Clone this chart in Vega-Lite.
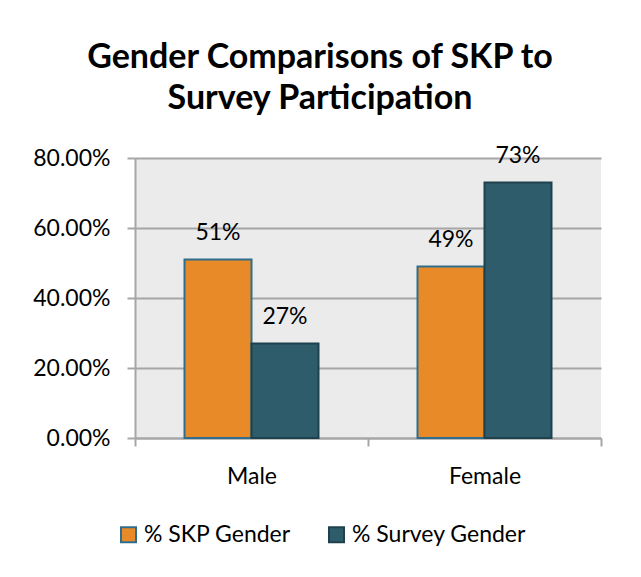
{
  "$schema": "https://vega.github.io/schema/vega-lite/v6.json",
  "width": 466,
  "height": 280,
  "autosize": {"type": "none"},
  "padding": {"left": 135, "top": 158, "right": 40, "bottom": 139},
  "background": "white",
  "title": {
    "text": ["Gender Comparisons of SKP to", "Survey Participation"],
    "font": "Lato",
    "fontSize": 34,
    "fontWeight": "bold",
    "color": "black",
    "anchor": "middle",
    "frame": "group",
    "dx": -48,
    "lineHeight": 41,
    "offset": 29
  },
  "data": {
    "values": [
      {"gender": "Male", "series": "% SKP Gender", "pct": 0.51},
      {"gender": "Male", "series": "% Survey Gender", "pct": 0.27},
      {"gender": "Female", "series": "% SKP Gender", "pct": 0.49},
      {"gender": "Female", "series": "% Survey Gender", "pct": 0.73}
    ]
  },
  "encoding": {
    "x": {
      "field": "gender",
      "type": "nominal",
      "sort": ["Male", "Female"],
      "scale": {"paddingInner": 0, "paddingOuter": 0},
      "axis": {
        "title": null,
        "labelAngle": 0,
        "labelFont": "Lato",
        "labelFontSize": 23,
        "labelColor": "black",
        "labelPadding": 19,
        "tickBand": "extent",
        "tickSize": 8,
        "tickColor": "#a6a6a6",
        "tickWidth": 2,
        "domainColor": "#a6a6a6",
        "domainWidth": 2
      }
    },
    "xOffset": {
      "field": "series",
      "type": "nominal",
      "scale": {"paddingOuter": 0.739, "paddingInner": 0}
    },
    "y": {
      "field": "pct",
      "type": "quantitative",
      "scale": {"domain": [0, 0.8], "nice": false},
      "axis": {
        "title": null,
        "values": [0, 0.2, 0.4, 0.6, 0.8],
        "format": ".2%",
        "labelFont": "Lato",
        "labelFontSize": 23,
        "labelColor": "black",
        "labelPadding": 17,
        "tickSize": 8,
        "tickColor": "#a6a6a6",
        "tickWidth": 2,
        "domainColor": "#a6a6a6",
        "domainWidth": 2,
        "gridColor": "#a6a6a6",
        "gridWidth": 2
      }
    }
  },
  "layer": [
    {
      "mark": {"type": "bar", "strokeWidth": 2},
      "encoding": {
        "color": {
          "field": "series",
          "type": "nominal",
          "scale": {"domain": ["% SKP Gender", "% Survey Gender"], "range": ["#e98a28", "#2e5c6a"]},
          "legend": {
            "title": null,
            "orient": "none",
            "direction": "horizontal",
            "legendX": -18,
            "legendY": 365,
            "symbolType": "square",
            "symbolSize": 225,
            "symbolStrokeWidth": 2,
            "symbolOpacity": 1,
            "labelFont": "Lato",
            "labelFontSize": 23,
            "labelColor": "black",
            "labelOffset": 4,
            "labelLimit": 400,
            "columnPadding": 34
          }
        },
        "stroke": {
          "field": "series",
          "type": "nominal",
          "scale": {"domain": ["% SKP Gender", "% Survey Gender"], "range": ["#2e6e8c", "#1e424d"]}
        }
      }
    },
    {
      "mark": {"type": "text", "baseline": "alphabetic", "dy": -20, "font": "Lato", "fontSize": 23, "color": "black"},
      "encoding": {
        "text": {"field": "pct", "type": "quantitative", "format": ".0%"}
      }
    }
  ],
  "config": {
    "view": {"stroke": null, "fill": "#ebebeb"}
  }
}
